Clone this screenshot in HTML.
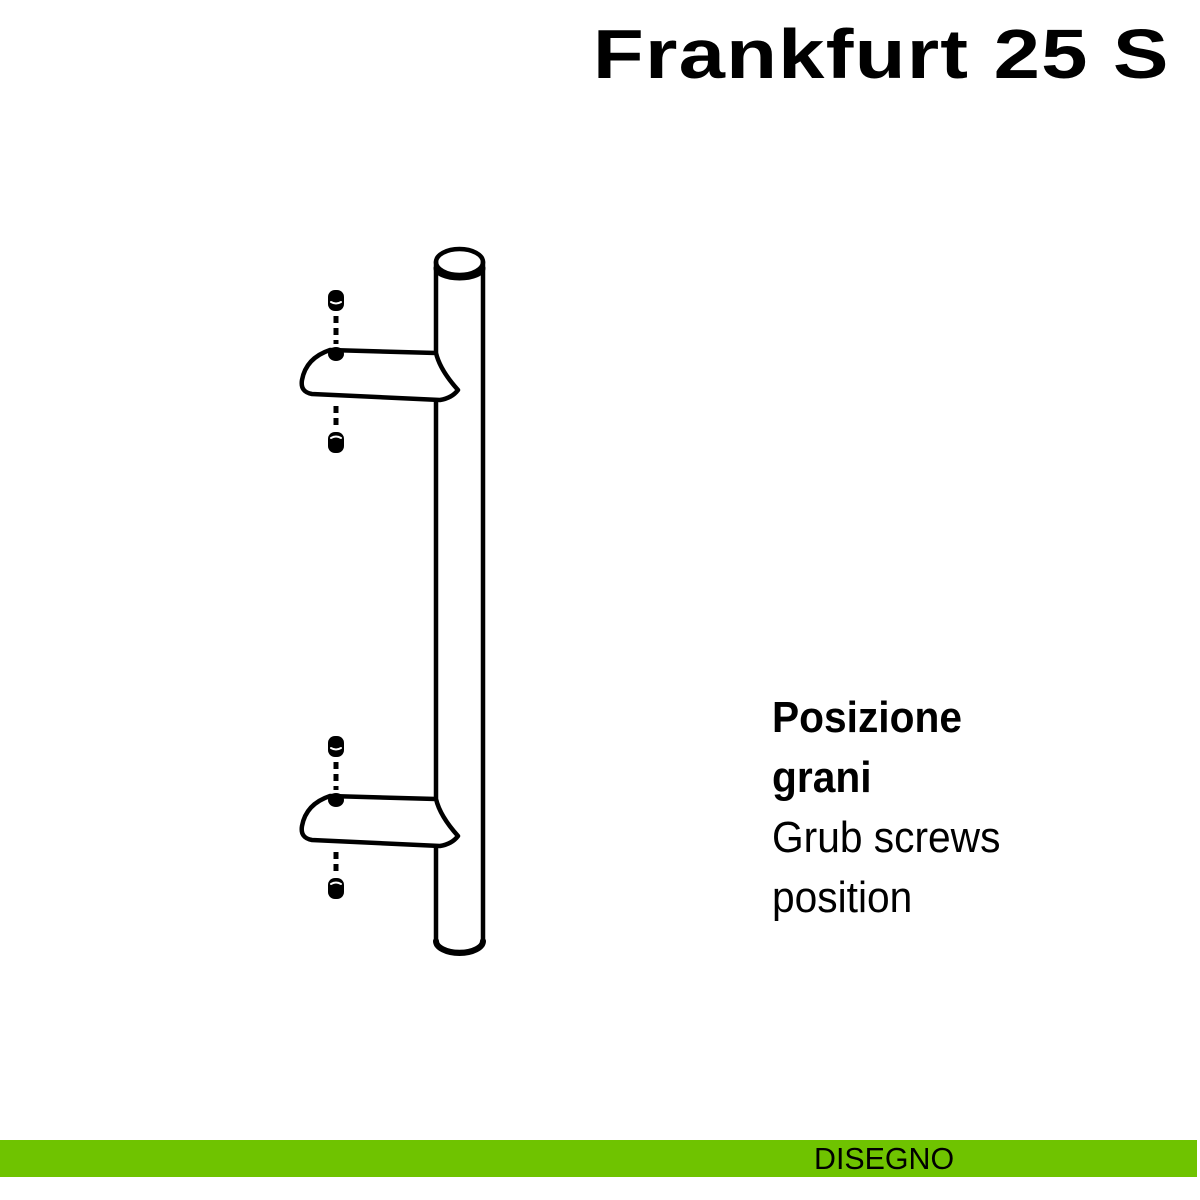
<!DOCTYPE html>
<html><head><style>
html,body{margin:0;padding:0;background:#fff;}
body{width:1200px;height:1200px;position:relative;overflow:hidden;}
.t{position:absolute;font-family:"Liberation Sans",sans-serif;}
</style></head><body>
<div class="t" style="right:30px;top:14px;font-size:70px;font-weight:bold;letter-spacing:1px;color:#000;transform:scaleX(1.19);transform-origin:right;white-space:nowrap;">Frankfurt 25 S</div>
<div class="t" style="left:772px;top:688px;font-size:44px;line-height:60px;color:#000;transform:scaleX(0.925);transform-origin:left;white-space:nowrap;"><b>Posizione<br>grani</b><br>Grub screws<br>position</div>
<div style="position:absolute;left:0;top:1140px;width:1197px;height:37px;background:#6fc300;"></div>
<div class="t" style="left:814px;top:1140px;font-size:31px;line-height:37px;color:#000;transform:scaleX(0.98);transform-origin:left;">DISEGNO</div>
<svg width="1200" height="1200" style="position:absolute;left:0;top:0" fill="none" stroke="#000" stroke-width="4.5" stroke-linecap="round" stroke-linejoin="round">
<path d="M436 262 L436 352 M436 402 L436 798 M436 848 L436 940 A23.5 12 0 0 0 483 940 L483 262"/>
<ellipse cx="459.5" cy="262" rx="23.5" ry="13"/>
<path d="M436 268 A23.5 10 0 0 0 483 268" stroke-width="5"/>
<path d="M436 941 A23.5 12 0 0 0 483 941" stroke-width="6"/>
<g id="b">
<path d="M330 350 L436 353 Q440 370 458 390 Q452 398 440 400 L312 394 Q300 392 302 380 Q306 358 330 350 Z" fill="#fff"/>
<ellipse cx="336" cy="354" rx="8" ry="7" fill="#000" stroke="none"/>
<rect x="328" y="290" width="16" height="21" rx="7" fill="#000" stroke="none"/>
<path d="M331 302 Q336 305 341 302" stroke="#fff" stroke-width="2"/>
<rect x="328" y="432" width="16" height="21" rx="7" fill="#000" stroke="none"/>
<path d="M331 438 Q336 435 341 438" stroke="#fff" stroke-width="2"/>
<path d="M336 316 L336 344 M336 406 L336 428" stroke-width="5" stroke-dasharray="7 5" stroke-linecap="butt"/>
</g>
<use href="#b" transform="translate(0,446)"/>
</svg>
</body></html>
